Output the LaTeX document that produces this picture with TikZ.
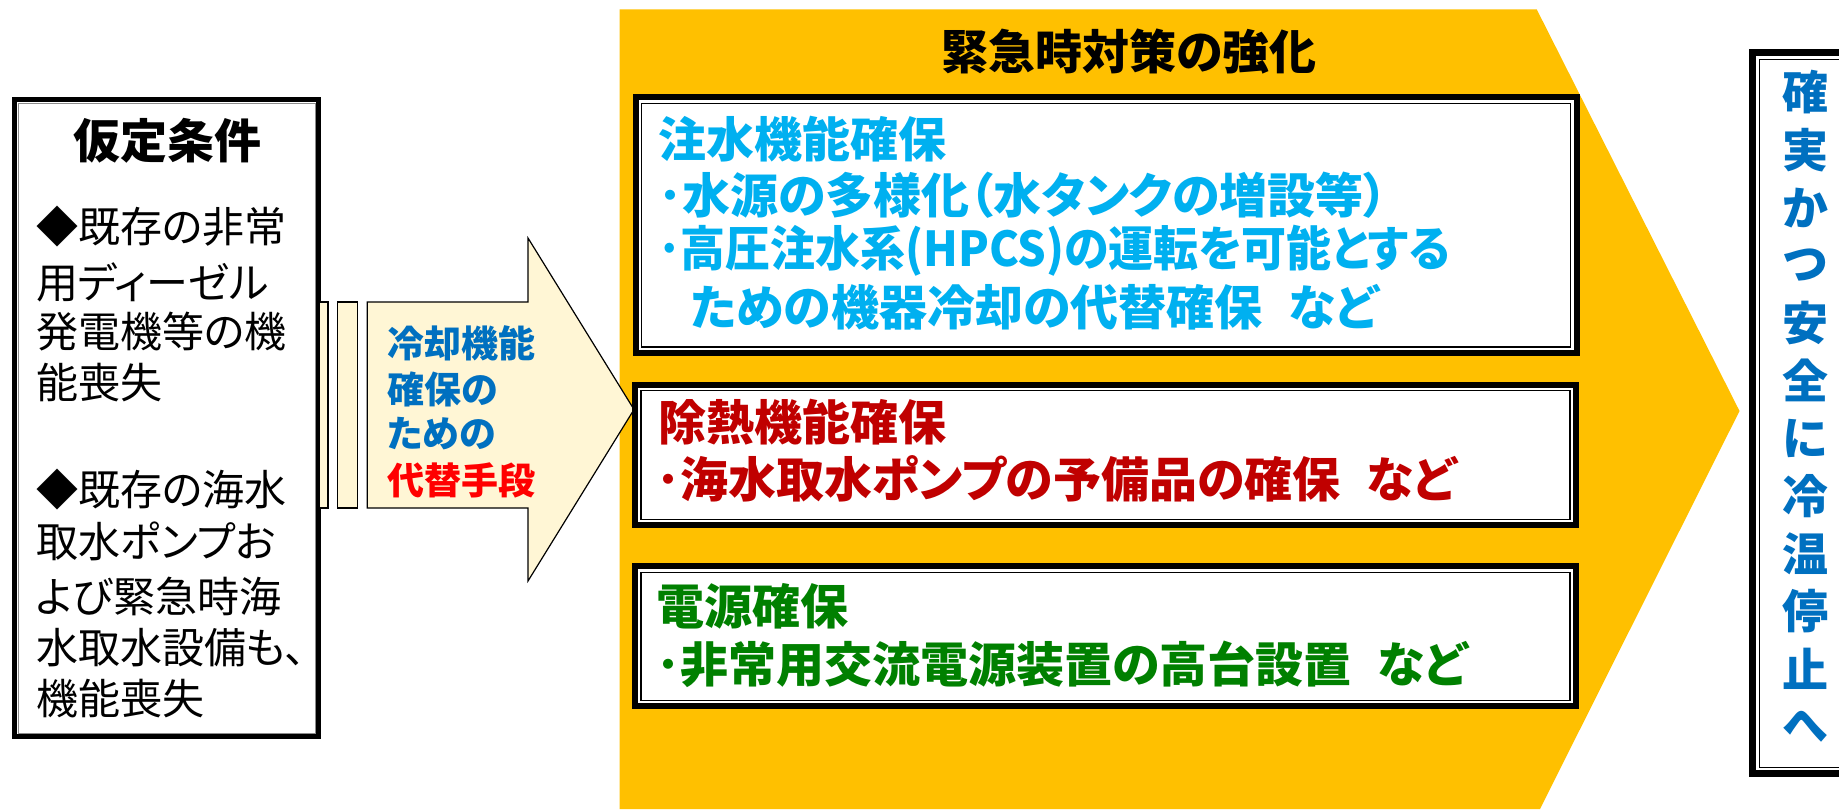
\documentclass[tikz,border=0pt]{standalone}
\usepackage{fontspec}
\setmainfont{Noto Sans CJK JP}[RawFeature=+palt]
\definecolor{orng}{HTML}{FFC000}
\definecolor{cream}{HTML}{FFF6D5}
\definecolor{cyantx}{HTML}{00B0F0}
\definecolor{redtx}{HTML}{C00000}
\definecolor{greentx}{HTML}{008000}
\definecolor{bluetx}{HTML}{0070C0}
\definecolor{brightred}{HTML}{FF0000}
\newcommand{\gapnado}{\hspace*{26pt}}
\begin{document}
\begin{tikzpicture}[x=1pt,y=-1pt,
  panel/.style={draw=black,line width=6pt,fill=white,inner sep=0pt},
  innerline/.style={draw=black,line width=1.5pt},
  coltext/.style={anchor=west,inner sep=0pt,font=\bfseries\fontsize{48}{48}\selectfont},
  lefttext/.style={anchor=west,inner sep=0pt,font=\fontsize{42}{42}\selectfont},
  arrtext/.style={anchor=west,inner sep=0pt,font=\bfseries\fontsize{37}{37}\selectfont,text=bluetx},
  vtext/.style={anchor=center,inner sep=0pt,font=\bfseries\fontsize{46}{46}\selectfont,text=bluetx},
  creamshape/.style={draw=black,line width=1.2pt,fill=cream,line join=miter}
]
\useasboundingbox (0,0) rectangle (1839,809);
\clip (0,0) rectangle (1839,809);

% orange chevron
\fill[orng] (619.5,9.3) -- (1536.7,9.3) -- (1739.5,411) -- (1540,809) -- (619.5,809) -- cycle;

% left box
\node[draw=black,line width=5pt,fill=white,minimum width=304pt,minimum height=636.7pt,inner sep=0pt] (cond) at (166.5,418.15) {};
\draw[draw=black!45,line width=1pt] ([shift={(6,6)}]cond.north west) rectangle ([shift={(-6,-6)}]cond.south east);

% striped block arrow
\draw[creamshape] (319,302) rectangle (328,508);
\draw[creamshape] (337.5,302) rectangle (357.7,508);
\draw[creamshape] (367.3,302) -- (528,302) -- (528,238) -- (634,409.5) -- (528,581) -- (528,508) -- (367.3,508) -- cycle;

% title
\node[inner sep=0pt,font=\bfseries\fontsize{47}{47}\selectfont] (title) at (1129,51.5) {緊急時対策の強化};

% panels
\node[panel,minimum width=941pt,minimum height=255.7pt] (b1) at (1106,225.15) {};
\draw[innerline] ([shift={(9,9)}]b1.north west) rectangle ([shift={(-9,-9)}]b1.south east);
\node[panel,minimum width=941pt,minimum height=140.6pt] (b2) at (1105.5,455) {};
\draw[innerline] ([shift={(9,9)}]b2.north west) rectangle ([shift={(-9,-9)}]b2.south east);
\node[panel,minimum width=941pt,minimum height=140pt] (b3) at (1105.5,636.3) {};
\draw[innerline] ([shift={(9,9)}]b3.north west) rectangle ([shift={(-9,-9)}]b3.south east);

% right box
\node[draw=black,line width=7pt,fill=white,minimum width=104.4pt,minimum height=721pt,inner sep=0pt] (goal) at (1805,413.3) {};
\draw[innerline] ([shift={(10,10)}]goal.north west) rectangle ([shift={(-10,-10)}]goal.south east);

% left box text
\node[inner sep=0pt,font=\bfseries\fontsize{47}{47}\selectfont] (condtitle) at (167,141) {仮定条件};
\node[lefttext] (c1) at (36,227) {◆既存の非常};
\node[lefttext] (c2) at (36,282) {用ディーゼル};
\node[lefttext] (c3) at (36,332) {発電機等の機};
\node[lefttext] (c4) at (36,383) {能喪失};
\node[lefttext] (c5) at (36,490) {◆既存の海水};
\node[lefttext] (c6) at (36,541) {取水ポンプお};
\node[lefttext] (c7) at (36,596) {よび緊急時海};
\node[lefttext] (c8) at (36,648) {水取水設備も、};
\node[lefttext] (c9) at (36,699) {機能喪失};

% arrow text
\node[arrtext] (a1) at (387,343) {冷却機能};
\node[arrtext] (a2) at (387,389) {確保の};
\node[arrtext] (a3) at (387,434) {ための};
\node[arrtext,text=brightred] (a4) at (387,480) {代替手段};

% panel 1 text
\node[coltext,text=cyantx] (p11) at (658,139) {注水機能確保};
\node[coltext,text=cyantx] (p12) at (658,195) {･水源の多様化（水タンクの増設等）};
\node[coltext,text=cyantx] (p13) at (658,251) {\scalebox{0.937}[1]{･高圧注水系(HPCS)の運転を可能とする}};
\node[coltext,text=cyantx] (p14) at (690,307) {ための機器冷却の代替確保\gapnado など};

% panel 2 text
\node[coltext,text=redtx] (p21) at (658,422) {除熱機能確保};
\node[coltext,text=redtx] (p22) at (656,478.5) {･海水取水ポンプの予備品の確保\gapnado など};

% panel 3 text
\node[coltext,text=greentx] (p31) at (656,606.5) {電源確保};
\node[coltext,text=greentx] (p32) at (656,664) {･非常用交流電源装置の高台設置\gapnado など};

% vertical goal text
\foreach \ch [count=\i from 0] in {確,実,か,つ,安,全,に,冷,温,停,止,へ} {
  \node[vtext] (v\i) at (1805,92.5+\i*57.65) {\ch};
}
\end{tikzpicture}
\end{document}
